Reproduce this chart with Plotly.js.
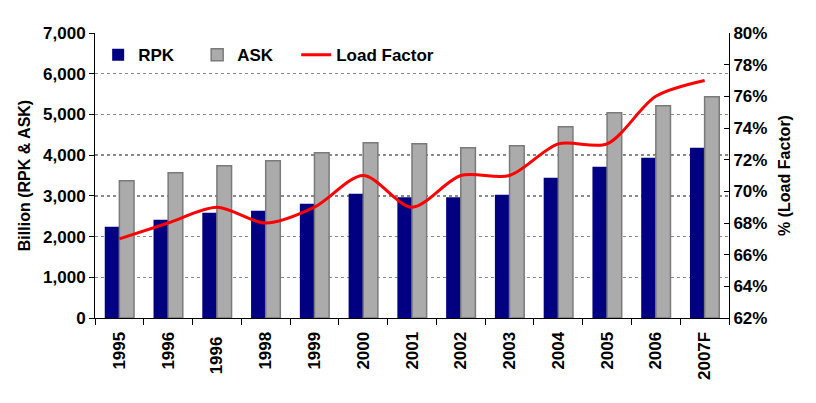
<!DOCTYPE html>
<html>
<head>
<meta charset="utf-8">
<script src="https://cdn.plot.ly/plotly-3.0.1.min.js"></script>
<style>html,body{margin:0;padding:0;background:#fff;}#chart{width:816px;height:403px;}</style>
</head>
<body>
<div id="chart"></div>
<script>
const years = ["1995","1996","1996 ","1998","1999","2000","2001","2002","2003","2004","2005","2006","2007F"];
const rpk = [2243, 2414, 2586, 2635, 2807, 3053, 2963, 2963, 3029, 3446, 3716, 3937, 4183];
const ask = [3372, 3570, 3741, 3864, 4060, 4306, 4280, 4183, 4232, 4699, 5043, 5214, 5435];
const loadFactor = [67.0, 68.0, 69.0, 68.0, 69.0, 71.0, 69.0, 71.0, 71.0, 73.0, 73.0, 76.0, 77.0];

const fontFam = "Liberation Sans, Arial, sans-serif";
const data = [
  {type:'bar', name:'RPK', x:years, y:rpk, marker:{color:'#000080'}, legendwidth:54},
  {type:'bar', name:'ASK', x:years, y:ask, marker:{color:'#ababab', line:{color:'#7a7a7a', width:1.5}}, legendwidth:54},
  {type:'scatter', mode:'lines', name:'Load Factor', x:years, y:loadFactor, yaxis:'y2', legendwidth:120,
   line:{color:'#ff0000', width:3, shape:'spline', smoothing:0.85}}
];
const layout = {
  width:816, height:403,
  margin:{l:95, r:87, t:33, b:85},
  paper_bgcolor:'#fff', plot_bgcolor:'#fff',
  font:{family:fontFam, size:17, color:'#000', weight:'bold'},
  barmode:'group', bargap:0.4, bargroupgap:0,
  showlegend:true,
  legend:{orientation:'h', x:0.005, y:0.985, xanchor:'left', yanchor:'top',
          font:{size:17, weight:'bold'}, bgcolor:'rgba(0,0,0,0)', itemwidth:30, traceorder:'normal'},
  xaxis:{type:'category', tickangle:-90, showline:true, linecolor:'#000', linewidth:1,
         ticks:'outside', tickson:'boundaries', ticklen:6, tickcolor:'#000', ticklabelstandoff:6,
         tickfont:{size:17, weight:'bold'}, showgrid:false, zeroline:false},
  yaxis:{range:[0,7000], dtick:1000, tickformat:',d', showline:true, linecolor:'#000', linewidth:1,
         ticks:'outside', ticklen:5, tickcolor:'#000',
         showgrid:true, gridcolor:'#8a8a8a', griddash:'3px,3px', gridwidth:1.5, zeroline:false,
         tickfont:{size:17, weight:'bold'},
         title:{text:'Billion (RPK & ASK)', font:{size:16, weight:'bold'}, standoff:8}},
  yaxis2:{range:[62,80], dtick:2, ticksuffix:'%', overlaying:'y', side:'right',
          showline:true, linecolor:'#000', linewidth:1, ticks:'inside', ticklen:5, tickcolor:'#000',
          showgrid:false, zeroline:false, tickfont:{size:17, weight:'bold'},
          title:{text:'% (Load Factor)', font:{size:16, weight:'bold'}, standoff:12}}
};
Plotly.newPlot('chart', data, layout, {staticPlot:true, displayModeBar:false});
</script>
</body>
</html>
